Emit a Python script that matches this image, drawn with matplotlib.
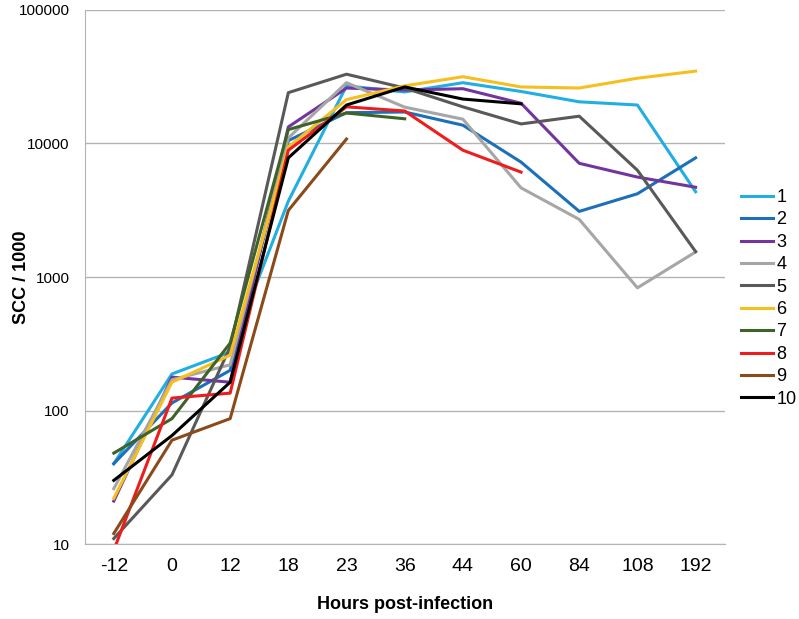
import matplotlib
matplotlib.use('Agg')
import matplotlib.pyplot as plt
from matplotlib.ticker import FixedLocator, FixedFormatter, NullLocator

plt.rcParams['font.family'] = ['Liberation Sans', 'DejaVu Sans']

hours = ['-12', '0', '12', '18', '23', '36', '44', '60', '84', '108', '192']

cow1 = [40, 188, 274, 3700, 27000, 24300, 28500, 24500, 20500, 19400, 4350]
cow2 = [40, 114, 200, 10500, 17000, 17200, 13700, 7250, 3100, 4200, 7800]
cow3 = [21, 178, 163, 13300, 26000, 25100, 25700, 20000, 7100, 5600, 4700]
cow4 = [26, 170, 220, 11000, 28500, 18700, 15200, 4650, 2700, 830, 1540]
cow5 = [11, 33, 300, 24000, 33000, 26000, 18800, 14000, 16000, 6300, 1550]
cow6 = [22, 163, 260, 9400, 21300, 27000, 31600, 26500, 26000, 30800, 34800]
cow7 = [48, 87, 320, 12700, 16900, 15300]
cow8 = [9, 124, 135, 8900, 18800, 17500, 8900, 6100]
cow9 = [12, 60, 87, 3150, 10800]
cow10 = [30, 65, 163, 7800, 19400, 26500, 21500, 19800]

series = [cow1, cow2, cow3, cow4, cow5, cow6, cow7, cow8, cow9, cow10]
names = ['1', '2', '3', '4', '5', '6', '7', '8', '9', '10']
colors = ['#21aee3', '#1c6fb8', '#7235a0', '#a6a6a6', '#595959',
          '#f5bf1f', '#3e6328', '#ee1c1c', '#8b4a1a', '#000000']

fig = plt.figure(figsize=(7.99, 6.19), dpi=100)
ax = fig.add_axes([0.106, 0.121, 0.801, 0.863])

for vals, name, col in zip(series, names, colors):
    ax.plot(range(len(vals)), vals, color=col, lw=2.2, label=name)

ax.set_yscale('log')
ax.set_ylim(10, 100000)
ax.set_xlim(-0.5, len(hours) - 0.5)
ax.yaxis.set_major_locator(FixedLocator([10, 100, 1000, 10000, 100000]))
ax.yaxis.set_major_formatter(FixedFormatter(['10', '100', '1000', '10000', '100000']))
ax.yaxis.set_minor_locator(NullLocator())
ax.set_xticks(range(len(hours)))
ax.set_xticklabels(hours, fontsize=14)
ax.tick_params(axis='y', labelsize=11, length=0, pad=11)
ax.tick_params(axis='x', length=0, pad=10)
ax.grid(axis='y', color='#b3b3b3', lw=1)
for s in ['top', 'right']:
    ax.spines[s].set_visible(False)
for s in ['left', 'bottom']:
    ax.spines[s].set_color('#b3b3b3')
ax.set_axisbelow(True)

ax.set_xlabel('Hours post-infection', fontsize=13, fontweight='bold', labelpad=15)
ax.set_ylabel('SCC / 1000', fontsize=13, fontweight='bold')
ax.yaxis.set_label_coords(-0.086, 0.5)

ax.legend(loc='center left', bbox_to_anchor=(1.0, 0.460), frameon=False,
          fontsize=13, handlelength=1.8, handletextpad=0.15,
          labelspacing=0.3, borderaxespad=0.5)

plt.savefig('out.png', dpi=100)
plt.close()
